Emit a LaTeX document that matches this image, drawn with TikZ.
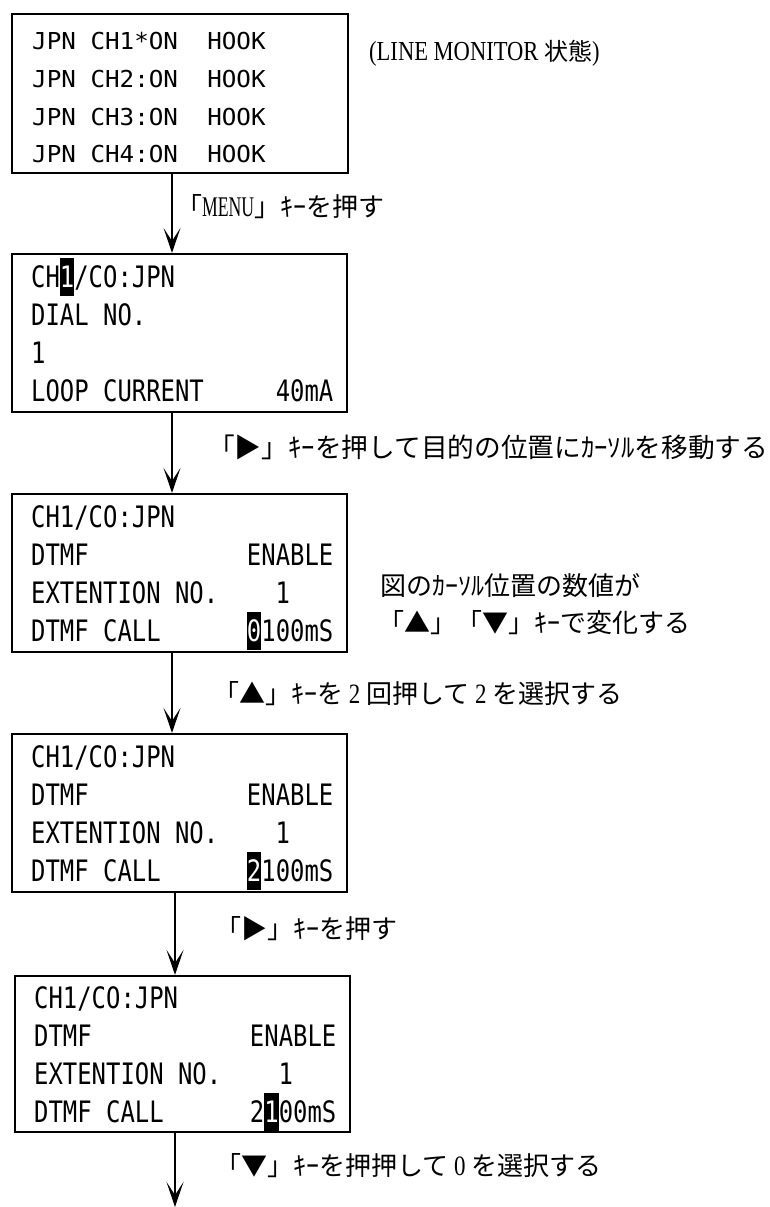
\documentclass[tikz,border=0pt]{standalone}
\usepackage{fontspec}
\usetikzlibrary{arrows.meta}
\newfontfamily\lcdA{DejaVu Sans Mono}[FakeStretch=1.04]
\newfontfamily\lcdB{DejaVu Sans Mono}[FakeStretch=0.81]
\newfontfamily\jp{Noto Sans CJK JP}
\newfontfamily\latw{Liberation Serif}[FakeStretch=0.82]
\newfontfamily\latn{Liberation Serif}[FakeStretch=0.62]
\newcommand\sk[1]{\setbox0\hbox{0}\hspace*{#1\wd0}}
\newcommand\hl[1]{{\setlength\fboxsep{0pt}\colorbox{black}{\vrule width 0pt height 29pt depth 8.5pt\textcolor{white}{#1}}}}
\newcommand\dg[1]{{\latw\fontsize{28}{30}\selectfont\ #1\ }}
\begin{document}
\begin{tikzpicture}[x=1pt,y=-1pt,
  box/.style={draw, line width=2.5pt, inner sep=0, minimum width=334.6pt, minimum height=157.6pt},
  lcdone/.style={anchor=base west, inner sep=0, font=\lcdA\fontsize{23.3}{28}\selectfont},
  lcdtwo/.style={anchor=base west, inner sep=0, font=\lcdB\fontsize{29.5}{34}\selectfont},
  lbl/.style={anchor=base west, inner sep=0, font=\jp\fontsize{26}{30}\selectfont},
  arr/.style={line width=2.5pt, -{Stealth[length=25pt,width=17pt,inset=13pt]}}]
\useasboundingbox (0,0) rectangle (769,1207);

% boxes
\node[box, minimum width=335.6pt, minimum height=158.6pt] (b1) at (180,93.5) {};
\node[box] (b2) at (179.5,333) {};
\node[box] (b3) at (179.5,573) {};
\node[box] (b4) at (179.5,813) {};
\node[box, minimum height=155.6pt] (b5) at (182.5,1054) {};

% box 1
\node[lcdone] (b1l1) at (32,50) {JPN\sk{1}CH1*ON\sk{2}HOOK};
\node[lcdone] (b1l2) at (32,88) {JPN\sk{1}CH2:ON\sk{2}HOOK};
\node[lcdone] (b1l3) at (32,125) {JPN\sk{1}CH3:ON\sk{2}HOOK};
\node[lcdone] (b1l4) at (32,162) {JPN\sk{1}CH4:ON\sk{2}HOOK};

% box 2
\node[lcdtwo] (b2l1) at (31,287) {CH\hl{1}/CO:JPN};
\node[lcdtwo] (b2l2) at (31,325) {DIAL\sk{1}NO.};
\node[lcdtwo] (b2l3) at (31,363) {1};
\node[lcdtwo] (b2l4) at (31,401) {LOOP\sk{1}CURRENT\sk{5}40mA};

% box 3
\node[lcdtwo] (b3l1) at (31,527) {CH1/CO:JPN};
\node[lcdtwo] (b3l2) at (31,565) {DTMF\sk{11}ENABLE};
\node[lcdtwo] (b3l3) at (31,603) {EXTENTION\sk{1}NO.\sk{4}1};
\node[lcdtwo] (b3l4) at (31,641) {DTMF\sk{1}CALL\sk{6}\hl{0}100mS};

% box 4
\node[lcdtwo] (b4l1) at (31,767) {CH1/CO:JPN};
\node[lcdtwo] (b4l2) at (31,805) {DTMF\sk{11}ENABLE};
\node[lcdtwo] (b4l3) at (31,843) {EXTENTION\sk{1}NO.\sk{4}1};
\node[lcdtwo] (b4l4) at (31,881) {DTMF\sk{1}CALL\sk{6}\hl{2}100mS};

% box 5
\node[lcdtwo] (b5l1) at (34,1008) {CH1/CO:JPN};
\node[lcdtwo] (b5l2) at (34,1046) {DTMF\sk{11}ENABLE};
\node[lcdtwo] (b5l3) at (34,1084) {EXTENTION\sk{1}NO.\sk{4}1};
\node[lcdtwo] (b5l4) at (34,1122) {DTMF\sk{1}CALL\sk{6}2\hl{1}00mS};

% labels
\node[lbl, font=\jp\fontsize{24}{28}\selectfont] (lm) at (369,61) {{\latw\fontsize{27.5}{30}\selectfont (LINE MONITOR }状態{\latw\fontsize{27.5}{30}\selectfont )}};
\node[lbl] (menu) at (176,216) {「{\latn\fontsize{28.5}{30}\selectfont MENU}」ｷｰを押す};
\node[lbl, font=\jp\fontsize{26.7}{30}\selectfont] (r1) at (208,457) {「▶」ｷｰを押して目的の位置にｶｰｿﾙを移動する};
\node[lbl] (n1) at (380,595) {図のｶｰｿﾙ位置の数値が};
\node[lbl] (n2) at (378,632) {「▲」「▼」ｷｰで変化する};
\node[lbl] (u1) at (213,703) {「▲」ｷｰを\dg{2}回押して\dg{2}を選択する};
\node[lbl] (r2) at (215,938) {「▶」ｷｰを押す};
\node[lbl] (d1) at (215,1175) {「▼」ｷｰを押押して\dg{0}を選択する};

% arrows
\coordinate (tail) at (175,1207);
\draw[arr] ([xshift=-8pt]b1.south) -- ([xshift=-7.5pt]b2.north);
\draw[arr] ([xshift=-7.5pt]b2.south) -- ([xshift=-7.5pt]b3.north);
\draw[arr] ([xshift=-7.5pt]b3.south) -- ([xshift=-7.5pt]b4.north);
\draw[arr] ([xshift=-4.5pt]b4.south) -- ([xshift=-7.5pt]b5.north);
\draw[arr] ([xshift=-7.5pt]b5.south) -- (tail);
\end{tikzpicture}
\end{document}
